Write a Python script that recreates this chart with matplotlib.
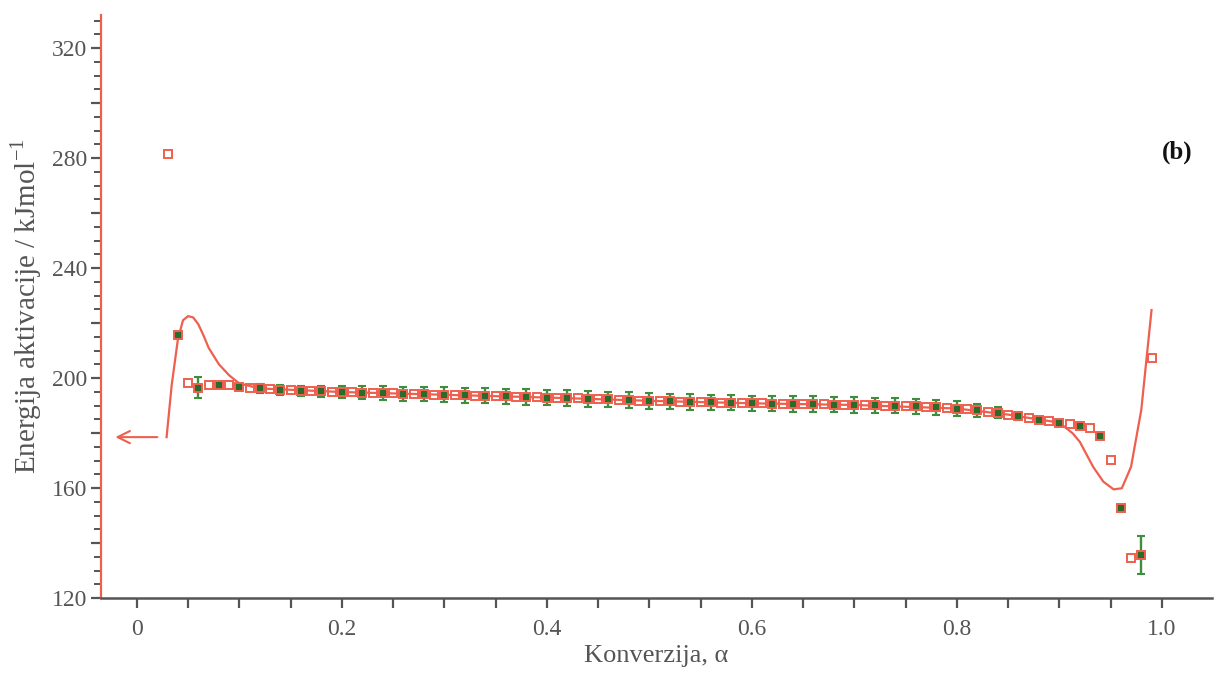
import matplotlib
matplotlib.use("Agg")
import matplotlib.pyplot as plt
from matplotlib.ticker import MultipleLocator, FixedLocator, FuncFormatter

# ---------------- data ----------------
alpha_red = [0.03, 0.04, 0.05, 0.06, 0.07, 0.08, 0.09, 0.10, 0.11, 0.12,
             0.13, 0.14, 0.15, 0.16, 0.17, 0.18, 0.19, 0.20, 0.21, 0.22,
             0.23, 0.24, 0.25, 0.26, 0.27, 0.28, 0.29, 0.30, 0.31, 0.32,
             0.33, 0.34, 0.35, 0.36, 0.37, 0.38, 0.39, 0.40, 0.41, 0.42,
             0.43, 0.44, 0.45, 0.46, 0.47, 0.48, 0.49, 0.50, 0.51, 0.52,
             0.53, 0.54, 0.55, 0.56, 0.57, 0.58, 0.59, 0.60, 0.61, 0.62,
             0.63, 0.64, 0.65, 0.66, 0.67, 0.68, 0.69, 0.70, 0.71, 0.72,
             0.73, 0.74, 0.75, 0.76, 0.77, 0.78, 0.79, 0.80, 0.81, 0.82,
             0.83, 0.84, 0.85, 0.86, 0.87, 0.88, 0.89, 0.90, 0.91, 0.92,
             0.93, 0.94, 0.95, 0.96, 0.97, 0.98, 0.99]
E_red = [281.5, 215.5, 198.2, 196.4, 197.4, 197.5, 197.3, 196.8, 196.5, 196.2,
         196.0, 195.8, 195.6, 195.4, 195.3, 195.2, 195.0, 194.9, 194.8, 194.7,
         194.6, 194.5, 194.4, 194.3, 194.2, 194.1, 194.0, 193.9, 193.8, 193.7,
         193.6, 193.5, 193.4, 193.3, 193.2, 193.1, 193.0, 192.9, 192.8, 192.7,
         192.6, 192.4, 192.3, 192.2, 192.1, 192.0, 191.8, 191.7, 191.6, 191.5,
         191.4, 191.3, 191.2, 191.1, 191.0, 191.0, 190.9, 190.8, 190.8, 190.7,
         190.6, 190.6, 190.5, 190.5, 190.4, 190.3, 190.3, 190.2, 190.1, 190.1,
         190.0, 189.9, 189.8, 189.7, 189.6, 189.4, 189.2, 188.9, 188.6, 188.3,
         187.8, 187.3, 186.7, 186.1, 185.5, 184.9, 184.3, 183.8, 183.2, 182.5,
         181.7, 178.9, 170.2, 152.8, 134.7, 135.6, 207.4]

alpha_green = [0.04, 0.06, 0.08, 0.10, 0.12, 0.14, 0.16, 0.18, 0.20, 0.22,
               0.24, 0.26, 0.28, 0.30, 0.32, 0.34, 0.36, 0.38, 0.40, 0.42,
               0.44, 0.46, 0.48, 0.50, 0.52, 0.54, 0.56, 0.58, 0.60, 0.62,
               0.64, 0.66, 0.68, 0.70, 0.72, 0.74, 0.76, 0.78, 0.80, 0.82,
               0.84, 0.86, 0.88, 0.90, 0.92, 0.94, 0.96, 0.98]
E_green = [215.5, 196.4, 197.5, 196.8, 196.2, 195.8, 195.4, 195.2, 194.9, 194.7,
           194.5, 194.3, 194.1, 193.9, 193.7, 193.5, 193.3, 193.1, 192.9, 192.7,
           192.4, 192.2, 192.0, 191.7, 191.5, 191.3, 191.1, 191.0, 190.8, 190.7,
           190.6, 190.5, 190.3, 190.2, 190.1, 189.9, 189.7, 189.4, 188.9, 188.3,
           187.3, 186.1, 184.9, 183.8, 182.5, 178.9, 152.8, 135.6]
err_green = [0.5, 3.8, 0.8, 1.2, 1.5, 1.8, 1.8, 2.0, 2.3, 2.5,
             2.5, 2.6, 2.6, 2.7, 2.7, 2.7, 2.8, 2.8, 2.8, 2.8,
             2.8, 2.8, 2.8, 2.8, 2.8, 2.8, 2.8, 2.8, 2.8, 2.8,
             2.8, 2.8, 2.8, 2.8, 2.8, 2.8, 2.8, 2.7, 2.6, 2.3,
             2.0, 1.5, 1.0, 0.8, 0.5, 0.5, 0.5, 7.0]

alpha_line = [0.029, 0.034, 0.040, 0.045, 0.050, 0.055, 0.060, 0.065, 0.070,
              0.080, 0.090, 0.100, 0.120, 0.200, 0.300, 0.400, 0.500, 0.600,
              0.700, 0.800, 0.850, 0.880, 0.900, 0.913, 0.920, 0.933, 0.943,
              0.953, 0.961, 0.970, 0.980, 0.990]
E_line = [178.5, 197.5, 214.0, 221.0, 222.5, 222.0, 219.5, 215.5, 211.0,
          205.0, 201.0, 198.0, 196.2, 194.9, 193.9, 192.9, 191.7, 190.8,
          190.2, 188.9, 186.7, 184.9, 183.8, 179.9, 176.8, 167.7, 162.3,
          159.5, 159.9, 167.7, 188.4, 224.7]

xtick_vals = [0, 0.2, 0.4, 0.6, 0.8, 1.0]
xtick_labels = ["0", "0.2", "0.4", "0.6", "0.8", "1.0"]
ytick_labels_vals = [120, 160, 200, 240, 280, 320]

# ---------------- style ----------------
RED = "#EE5F4E"
GREEN = "#3E8E3E"
DKGREEN = "#2C6A2C"
GRAY = "#555555"

plt.rcParams["font.family"] = ["Liberation Serif", "DejaVu Serif"]
plt.rcParams["mathtext.fontset"] = "stix"

fig = plt.figure(figsize=(12.19, 6.87), dpi=100)
ax = fig.add_axes([101 / 1219, 1 - 598 / 687, (1212 - 101) / 1219, (598 - 15) / 687])

ax.plot(alpha_line, E_line, color=RED, lw=1.6, zorder=2)
ax.errorbar(alpha_green, E_green, yerr=err_green, fmt="s", ms=3.8,
            mfc=DKGREEN, mec=DKGREEN, ecolor=GREEN, elinewidth=1.7,
            capsize=2.8, capthick=1.5, zorder=3)
ax.plot(alpha_red, E_red, ls="none", marker="s", ms=5.8, mfc="none",
        mec=RED, mew=1.4, zorder=4)

ax.annotate("", xy=(-0.021, 178.5), xytext=(0.020, 178.5),
            arrowprops=dict(arrowstyle="->", color=RED, lw=1.5,
                            mutation_scale=22, shrinkA=0, shrinkB=0))

ax.set_xlim(-0.035, 1.049)
ax.set_ylim(120, 332)

ax.xaxis.set_major_locator(FixedLocator(xtick_vals))
ax.set_xticklabels(xtick_labels)
ax.xaxis.set_minor_locator(MultipleLocator(0.05))
ax.yaxis.set_major_locator(MultipleLocator(20))
ax.yaxis.set_minor_locator(MultipleLocator(5))
ax.yaxis.set_major_formatter(FuncFormatter(
    lambda v, p: f"{int(round(v))}" if int(round(v)) in ytick_labels_vals else ""))

for s in ["top", "right"]:
    ax.spines[s].set_visible(False)
ax.spines["left"].set_color(RED)
ax.spines["left"].set_linewidth(1.6)
ax.spines["bottom"].set_color(GRAY)
ax.spines["bottom"].set_linewidth(1.8)

ax.tick_params(axis="y", which="major", direction="out", length=7, width=1.6,
               color=GRAY, labelsize=17, labelcolor=GRAY, pad=3)
ax.tick_params(axis="y", which="minor", direction="out", length=5, width=1.4,
               color=GRAY)
ax.tick_params(axis="x", which="both", direction="out", length=7, width=1.6,
               color=GRAY, labelsize=17, labelcolor=GRAY, pad=8)

ax.set_xlabel("Konverzija, α", fontsize=19, color=GRAY, labelpad=4)
ax.set_ylabel(r"Energija aktivacije / kJmol$^{\mathregular{-1}}$", fontsize=21,
              color=GRAY, labelpad=5)

ax.text(1.0, 282, "(b)", fontsize=18, fontweight="bold", color="#111111",
        ha="left", va="center", transform=ax.transData)

fig.savefig("out.png", dpi=100)
